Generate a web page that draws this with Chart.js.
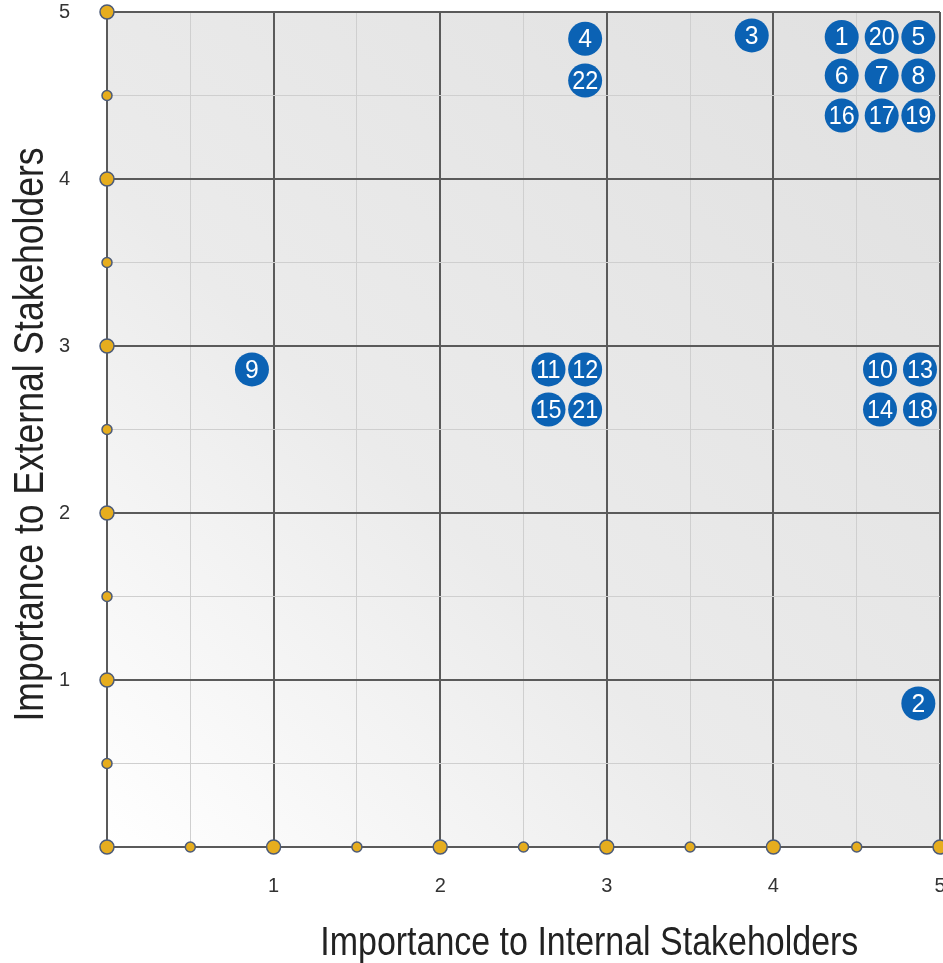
<!DOCTYPE html>
<html>
<head>
<meta charset="utf-8">
<script src="https://cdn.jsdelivr.net/npm/chart.js@4.4.1/dist/chart.umd.min.js"></script>
<style>
  html, body { margin: 0; padding: 0; background: #fff; }
  canvas { display: block; }
</style>
</head>
<body>
<canvas id="matrixChart" width="943" height="963"></canvas>
<script>
// ====== Chart Data ======
const issueLabels = ['1', '2', '3', '4', '5', '6', '7', '8', '9', '10', '11',
  '12', '13', '14', '15', '16', '17', '18', '19', '20', '21', '22'];
const internalScores = [4.41, 4.87, 3.87, 2.87, 4.87, 4.41, 4.65, 4.87, 0.87, 4.64, 2.65,
  2.87, 4.88, 4.64, 2.65, 4.41, 4.65, 4.88, 4.87, 4.65, 2.87, 2.87];
const externalScores = [4.85, 0.86, 4.86, 4.84, 4.85, 4.62, 4.62, 4.62, 2.86, 2.86, 2.86,
  2.86, 2.86, 2.62, 2.62, 4.38, 4.38, 2.62, 4.38, 4.85, 2.62, 4.59];
const axisMarks = [0, 0.5, 1, 1.5, 2, 2.5, 3, 3.5, 4, 4.5, 5];
const tickLabels = ['1', '2', '3', '4', '5'];

const xTitle = 'Importance to Internal Stakeholders';
const yTitle = 'Importance to External Stakeholders';

const issuePoints = internalScores.map((x, i) => ({ x: x, y: externalScores[i] }));
const markPoints = axisMarks.map(v => ({ x: v, y: 0 }))
  .concat(axisMarks.slice(1).map(v => ({ x: 0, y: v })));

const isMajor = v => Math.abs(v - Math.round(v)) < 1e-6;
const tickText = v => (isMajor(v) && tickLabels.includes(String(Math.round(v)))) ? String(Math.round(v)) : '';

// draws text squeezed horizontally (the original uses a condensed face)
function narrowText(ctx, text, x, y, squeeze, angle) {
  ctx.save();
  ctx.translate(x, y);
  ctx.rotate(angle || 0);
  ctx.scale(squeeze, 1);
  ctx.fillText(text, 0, 0);
  ctx.restore();
}

// ====== Plugins ======
const plotBackground = {
  id: 'plotBackground',
  beforeDraw(chart) {
    const { ctx, chartArea: a } = chart;
    const g = ctx.createLinearGradient(a.left, a.bottom, a.right, a.top);
    g.addColorStop(0, '#ffffff');
    g.addColorStop(0.4, '#ebebeb');
    g.addColorStop(1, '#e0e0e0');
    ctx.save();
    ctx.fillStyle = g;
    ctx.fillRect(a.left, a.top, a.right - a.left, a.bottom - a.top);
    ctx.restore();
  }
};

const pointNumbers = {
  id: 'pointNumbers',
  afterDatasetsDraw(chart) {
    const { ctx } = chart;
    const meta = chart.getDatasetMeta(1);
    ctx.save();
    ctx.fillStyle = '#ffffff';
    ctx.font = '26px "Liberation Sans", Arial, sans-serif';
    ctx.textAlign = 'center';
    ctx.textBaseline = 'middle';
    meta.data.forEach((pt, i) => {
      narrowText(ctx, issueLabels[i], pt.x, pt.y + 1, issueLabels[i].length > 1 ? 0.9 : 0.95);
    });
    ctx.restore();
  }
};

const axisTitles = {
  id: 'axisTitles',
  afterDraw(chart) {
    const { ctx, chartArea: a } = chart;
    ctx.save();
    ctx.fillStyle = '#222';
    ctx.font = '41px "Liberation Sans", Arial, sans-serif';
    ctx.textAlign = 'center';
    ctx.textBaseline = 'alphabetic';
    const sx = 538 / ctx.measureText(xTitle).width;
    narrowText(ctx, xTitle, a.left + (a.right - a.left) * 0.579, 955, sx);
    ctx.font = '43px "Liberation Sans", Arial, sans-serif';
    const sy = 574 / ctx.measureText(yTitle).width;
    narrowText(ctx, yTitle, 43, (a.top + a.bottom) / 2 + 5, sy, -Math.PI / 2);
    ctx.restore();
  }
};

// ====== Chart ======
const ctx = document.getElementById('matrixChart').getContext('2d');
const matrixChart = new Chart(ctx, {
  type: 'scatter',
  data: {
    datasets: [{
      label: 'axis marks',
      data: markPoints,
      clip: false,
      backgroundColor: '#e6ad1e',
      borderColor: '#4c5b78',
      borderWidth: 1.5,
      pointRadius: c => isMajor(c.raw.x + c.raw.y) ? 7 : 5,
      pointHoverRadius: c => isMajor(c.raw.x + c.raw.y) ? 7 : 5
    }, {
      label: 'issues',
      data: issuePoints,
      clip: false,
      backgroundColor: '#0b62b4',
      borderColor: '#0b62b4',
      borderWidth: 0,
      pointRadius: 17,
      pointHoverRadius: 17
    }]
  },
  options: {
    responsive: false,
    animation: false,
    devicePixelRatio: 1,
    layout: { autoPadding: false, padding: { top: 12, right: 3, left: 0, bottom: 0 } },
    plugins: {
      legend: { display: false },
      tooltip: { enabled: false }
    },
    scales: {
      x: {
        type: 'linear',
        min: 0,
        max: 5,
        afterFit: s => { s.height = 116; s.paddingLeft = 0; s.paddingRight = 0; },
        ticks: {
          stepSize: 0.5,
          autoSkip: false,
          maxRotation: 0,
          padding: 27,
          color: '#333',
          font: { family: '"Liberation Sans", Arial, sans-serif', size: 20 },
          callback: v => tickText(v)
        },
        grid: {
          drawTicks: false,
          color: c => isMajor(c.tick.value) ? '#5a5a5a' : '#cfcfcf',
          lineWidth: c => isMajor(c.tick.value) ? 2 : 1
        },
        border: { color: '#5a5a5a', width: 2 }
      },
      y: {
        type: 'linear',
        min: 0,
        max: 5,
        afterFit: s => { s.width = 107; s.paddingTop = 0; s.paddingBottom = 0; },
        ticks: {
          stepSize: 0.5,
          autoSkip: false,
          padding: 37,
          color: '#333',
          font: { family: '"Liberation Sans", Arial, sans-serif', size: 20 },
          callback: v => tickText(v)
        },
        grid: {
          drawTicks: false,
          color: c => isMajor(c.tick.value) ? '#5a5a5a' : '#cfcfcf',
          lineWidth: c => isMajor(c.tick.value) ? 2 : 1
        },
        border: { color: '#5a5a5a', width: 2 }
      }
    }
  },
  plugins: [plotBackground, pointNumbers, axisTitles]
});
</script>
</body>
</html>
